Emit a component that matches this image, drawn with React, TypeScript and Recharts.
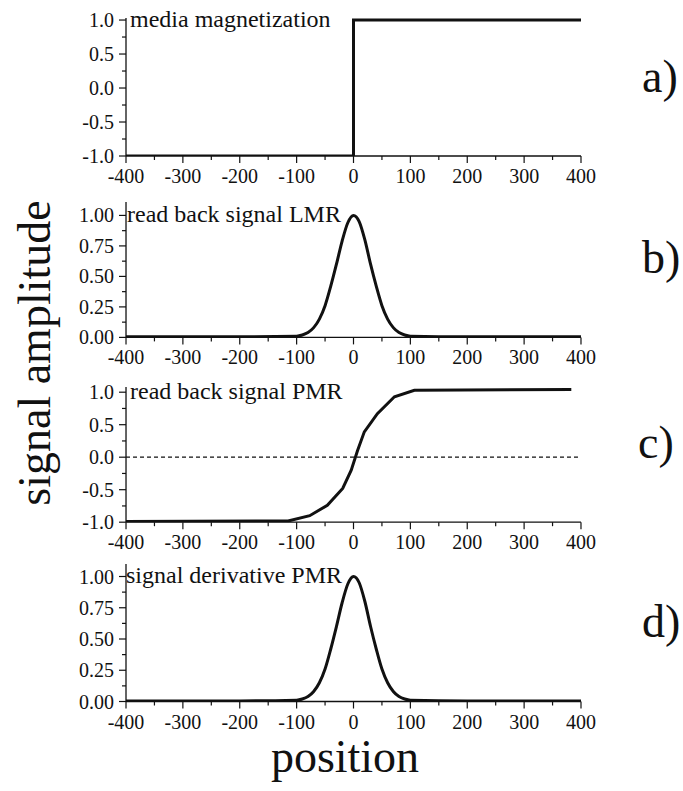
import { Line, LineChart, ReferenceLine, XAxis, YAxis } from "recharts";

const FONT = '"Liberation Serif", "Times New Roman", serif';
const INK = "#111";

// x ticks every 50, labels only on the hundreds
const X_TICKS = [-400, -350, -300, -250, -200, -150, -100, -50, 0, 50, 100, 150, 200, 250, 300, 350, 400];

// a) media magnetization (step)
const magX = [-400, 0, 0, 400];
const magY = [-1, -1, 1, 1];

// b) read back signal LMR
const lmrX = [-400, -200, -100, -90, -80, -70, -60, -50, -40, -30, -20, -10, 0, 10, 20, 30, 40, 50, 60, 70, 80, 90, 100, 200, 400];
const lmrY = [0.005, 0.005, 0.01, 0.02, 0.04, 0.08, 0.15, 0.26, 0.42, 0.6, 0.79, 0.94, 1.0, 0.95, 0.8, 0.6, 0.42, 0.26, 0.15, 0.08, 0.04, 0.02, 0.01, 0.005, 0.005];

// c) read back signal PMR
const pmrX = [-400, -115, -77, -46, -19, -4, 7, 19, 42, 72, 107, 383];
const pmrY = [-0.99, -0.98, -0.9, -0.74, -0.48, -0.2, 0.1, 0.39, 0.67, 0.93, 1.03, 1.04];

// d) signal derivative PMR
const derX = [-400, -200, -100, -90, -80, -70, -60, -50, -40, -30, -20, -10, 0, 10, 20, 30, 40, 50, 60, 70, 80, 90, 100, 200, 400];
const derY = [0.005, 0.005, 0.01, 0.02, 0.04, 0.08, 0.15, 0.26, 0.42, 0.6, 0.79, 0.94, 1.0, 0.95, 0.8, 0.6, 0.42, 0.26, 0.15, 0.08, 0.04, 0.02, 0.01, 0.005, 0.005];

const TICKS_WIDE = [-1, -0.75, -0.5, -0.25, 0, 0.25, 0.5, 0.75, 1];
const MAJOR_WIDE = [-1, -0.5, 0, 0.5, 1];
const TICKS_UNIT = [0, 0.125, 0.25, 0.375, 0.5, 0.625, 0.75, 0.875, 1];
const MAJOR_UNIT = [0, 0.25, 0.5, 0.75, 1];

const PLOT_LEFT = 126;
const PLOT_RIGHT = 581;
const PAD_TOP = 12;
const X_AXIS_H = 40;
const Y_AXIS_W = 60;

const XTick = (props: any) => {
  const { x, y, payload } = props;
  const major = payload.value % 100 === 0;
  return (
    <g>
      <line x1={x} x2={x} y1={y} y2={y + (major ? 7 : 4)} stroke={INK} strokeWidth={1.2} />
      {major && (
        <text x={x} y={y + 27} textAnchor="middle" fontFamily={FONT} fontSize={20} fill={INK}>
          {payload.value}
        </text>
      )}
    </g>
  );
};

const makeYTick = (major: number[], decimals: number) => (props: any) => {
  const { x, y, payload } = props;
  const isMajor = major.includes(payload.value);
  return (
    <g>
      <line x1={x - (isMajor ? 7 : 4)} x2={x} y1={y} y2={y} stroke={INK} strokeWidth={1.2} />
      {isMajor && (
        <text x={x - 12} y={y + 7} textAnchor="end" fontFamily={FONT} fontSize={20} fill={INK}>
          {payload.value.toFixed(decimals)}
        </text>
      )}
    </g>
  );
};

interface PanelProps {
  xs: number[];
  ys: number[];
  plotTop: number;
  plotBottom: number;
  domain: [number, number];
  ticks: number[];
  major: number[];
  decimals: number;
  curve: "linear" | "monotone";
  zeroLine?: boolean;
}

function Panel({ xs, ys, plotTop, plotBottom, domain, ticks, major, decimals, curve, zeroLine }: PanelProps) {
  const rows = xs.map((x, i) => ({ x, y: ys[i] }));
  const height = plotBottom - plotTop + PAD_TOP + X_AXIS_H;
  return (
    <div style={{ position: "absolute", left: 0, top: plotTop - PAD_TOP }}>
      <LineChart
        width={683}
        height={height}
        data={rows}
        margin={{ top: PAD_TOP, right: 683 - PLOT_RIGHT, bottom: 0, left: PLOT_LEFT - Y_AXIS_W }}
      >
        <XAxis
          dataKey="x"
          type="number"
          domain={[-400, 400]}
          ticks={X_TICKS}
          interval={0}
          height={X_AXIS_H}
          tickSize={0}
          tickMargin={0}
          tickLine={false}
          axisLine={{ stroke: INK, strokeWidth: 1.3 }}
          tick={<XTick />}
          allowDataOverflow
        />
        <YAxis
          type="number"
          domain={domain}
          ticks={ticks}
          interval={0}
          width={Y_AXIS_W}
          tickSize={0}
          tickMargin={0}
          tickLine={false}
          axisLine={{ stroke: INK, strokeWidth: 1.3 }}
          tick={makeYTick(major, decimals)}
          allowDataOverflow
        />
        {zeroLine && <ReferenceLine y={0} stroke={INK} strokeWidth={1.3} strokeDasharray="4 3" />}
        <Line
          type={curve}
          dataKey="y"
          stroke={INK}
          strokeWidth={3}
          dot={false}
          isAnimationActive={false}
        />
      </LineChart>
    </div>
  );
}

export default function App() {
  return (
    <div style={{ position: "absolute", left: 0, top: 0, width: 683, height: 791, background: "#fff" }}>
      <Panel xs={magX} ys={magY} plotTop={18} plotBottom={156} domain={[-1, 1.03]} ticks={TICKS_WIDE} major={MAJOR_WIDE} decimals={1} curve="linear" />
      <Panel xs={lmrX} ys={lmrY} plotTop={201.6} plotBottom={337} domain={[0, 1.11]} ticks={TICKS_UNIT} major={MAJOR_UNIT} decimals={2} curve="monotone" />
      <Panel xs={pmrX} ys={pmrY} plotTop={386.8} plotBottom={522} domain={[-1, 1.08]} ticks={TICKS_WIDE} major={MAJOR_WIDE} decimals={1} curve="linear" zeroLine />
      <Panel xs={derX} ys={derY} plotTop={563.5} plotBottom={701} domain={[0, 1.1]} ticks={TICKS_UNIT} major={MAJOR_UNIT} decimals={2} curve="monotone" />

      <svg width={683} height={791} style={{ position: "absolute", left: 0, top: 0, pointerEvents: "none" }}>
        <g fontFamily={FONT} fill={INK}>
          <text x={130} y={27} fontSize={24}>media magnetization</text>
          <text x={127} y={222} fontSize={24}>read back signal LMR</text>
          <text x={130} y={399} fontSize={24}>read back signal PMR</text>
          <text x={126} y={583} fontSize={24}>signal derivative PMR</text>

          <text x={642} y={92} fontSize={46}>a)</text>
          <text x={642} y={273} fontSize={46}>b)</text>
          <text x={638} y={458} fontSize={46}>c)</text>
          <text x={642} y={637} fontSize={46}>d)</text>

          <text x={345} y={772} fontSize={46} textAnchor="middle">position</text>
          <text x={50} y={353} fontSize={46} textAnchor="middle" transform="rotate(-90 50 353)">signal amplitude</text>
        </g>
      </svg>
    </div>
  );
}
